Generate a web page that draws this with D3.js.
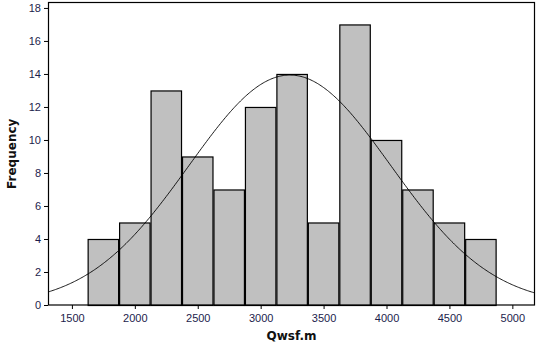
<!DOCTYPE html>
<html>
<head>
<meta charset="utf-8">
<script src="https://cdn.jsdelivr.net/npm/d3@7"></script>
<style>
  html, body { margin: 0; padding: 0; background: #fff; }
  svg { display: block; font-family: "DejaVu Sans", Verdana, sans-serif; }
  .tick text { fill: #1c1c4c; font-size: 11px; }
  .title { font-weight: bold; font-size: 12px; fill: #111; }
</style>
</head>
<body>
<svg id="chart" width="539" height="345"></svg>
<script>
// histogram of Qwsf.m with fitted normal curve

const binStarts = [1625, 1875, 2125, 2375, 2625, 2875, 3125, 3375, 3625, 3875, 4125, 4375, 4625];
const binWidth = 250;
const counts = [4, 5, 13, 9, 7, 12, 14, 5, 17, 10, 7, 5, 4];
const xTicks = [1500, 2000, 2500, 3000, 3500, 4000, 4500, 5000];
const yTicks = [0, 2, 4, 6, 8, 10, 12, 14, 16, 18];

const W = 539, H = 345;
const m = { top: 2.5, right: 4, bottom: 40, left: 48 };

const svg = d3.select("#chart");

const x = d3.scaleLinear().domain([1310, 5180]).range([m.left, W - m.right]);
const y = d3.scaleLinear().domain([0, 18.33]).range([H - m.bottom, m.top]);

// bars
svg.append("g").selectAll("rect").data(binStarts).join("rect")
    .attr("x", d => x(d) + 0.5)
    .attr("y", (d, i) => y(counts[i]) + 0.5)
    .attr("width", d => x(d + binWidth) - x(d) - 1)
    .attr("height", (d, i) => y(0) - y(counts[i]))
    .attr("fill", "#c0c0c0")
    .attr("stroke", "#000")
    .attr("stroke-width", 1.2);

// normal fit from the binned data
const n = d3.sum(counts);
const mids = binStarts.map(b => b + binWidth / 2);
const mean = d3.sum(mids, (v, i) => v * counts[i]) / n;
const sd = Math.sqrt(d3.sum(mids, (v, i) => counts[i] * (v - mean) ** 2) / (n - 1));
const fit = v => n * binWidth * Math.exp(-0.5 * ((v - mean) / sd) ** 2) / (sd * Math.sqrt(2 * Math.PI));

const curveX = d3.range(1310, 5181, 10);
svg.append("clipPath").attr("id", "clip").append("rect")
    .attr("x", m.left).attr("y", m.top)
    .attr("width", W - m.left - m.right).attr("height", H - m.top - m.bottom);
svg.append("path")
    .datum(curveX)
    .attr("clip-path", "url(#clip)")
    .attr("fill", "none")
    .attr("stroke", "#000")
    .attr("stroke-width", 0.9)
    .attr("d", d3.line().x(d => x(d)).y(d => y(fit(d))));

// frame
svg.append("rect")
    .attr("x", m.left + 0.5).attr("y", m.top)
    .attr("width", W - m.left - m.right - 1).attr("height", H - m.top - m.bottom)
    .attr("fill", "none").attr("stroke", "#000").attr("stroke-width", 1.2);

// axes
const xAxis = svg.append("g").attr("transform", `translate(0,${H - m.bottom})`)
    .call(d3.axisBottom(x).tickValues(xTicks).tickSize(4).tickPadding(4).tickFormat(d3.format("d")));
const yAxis = svg.append("g").attr("transform", `translate(${m.left},0)`)
    .call(d3.axisLeft(y).tickValues(yTicks).tickSize(4).tickPadding(3));
[xAxis, yAxis].forEach(g => {
    g.select(".domain").remove();
    g.selectAll("line").attr("stroke", "#000");
});
xAxis.selectAll("text").attr("dy", "0.8em");

svg.append("text").attr("class", "title")
    .attr("x", (m.left + W - m.right) / 2).attr("y", 340)
    .attr("text-anchor", "middle").text("Qwsf.m");
svg.append("text").attr("class", "title")
    .attr("transform", `translate(16,${(m.top + H - m.bottom) / 2}) rotate(-90)`)
    .attr("text-anchor", "middle").text("Frequency");
</script>
</body>
</html>
